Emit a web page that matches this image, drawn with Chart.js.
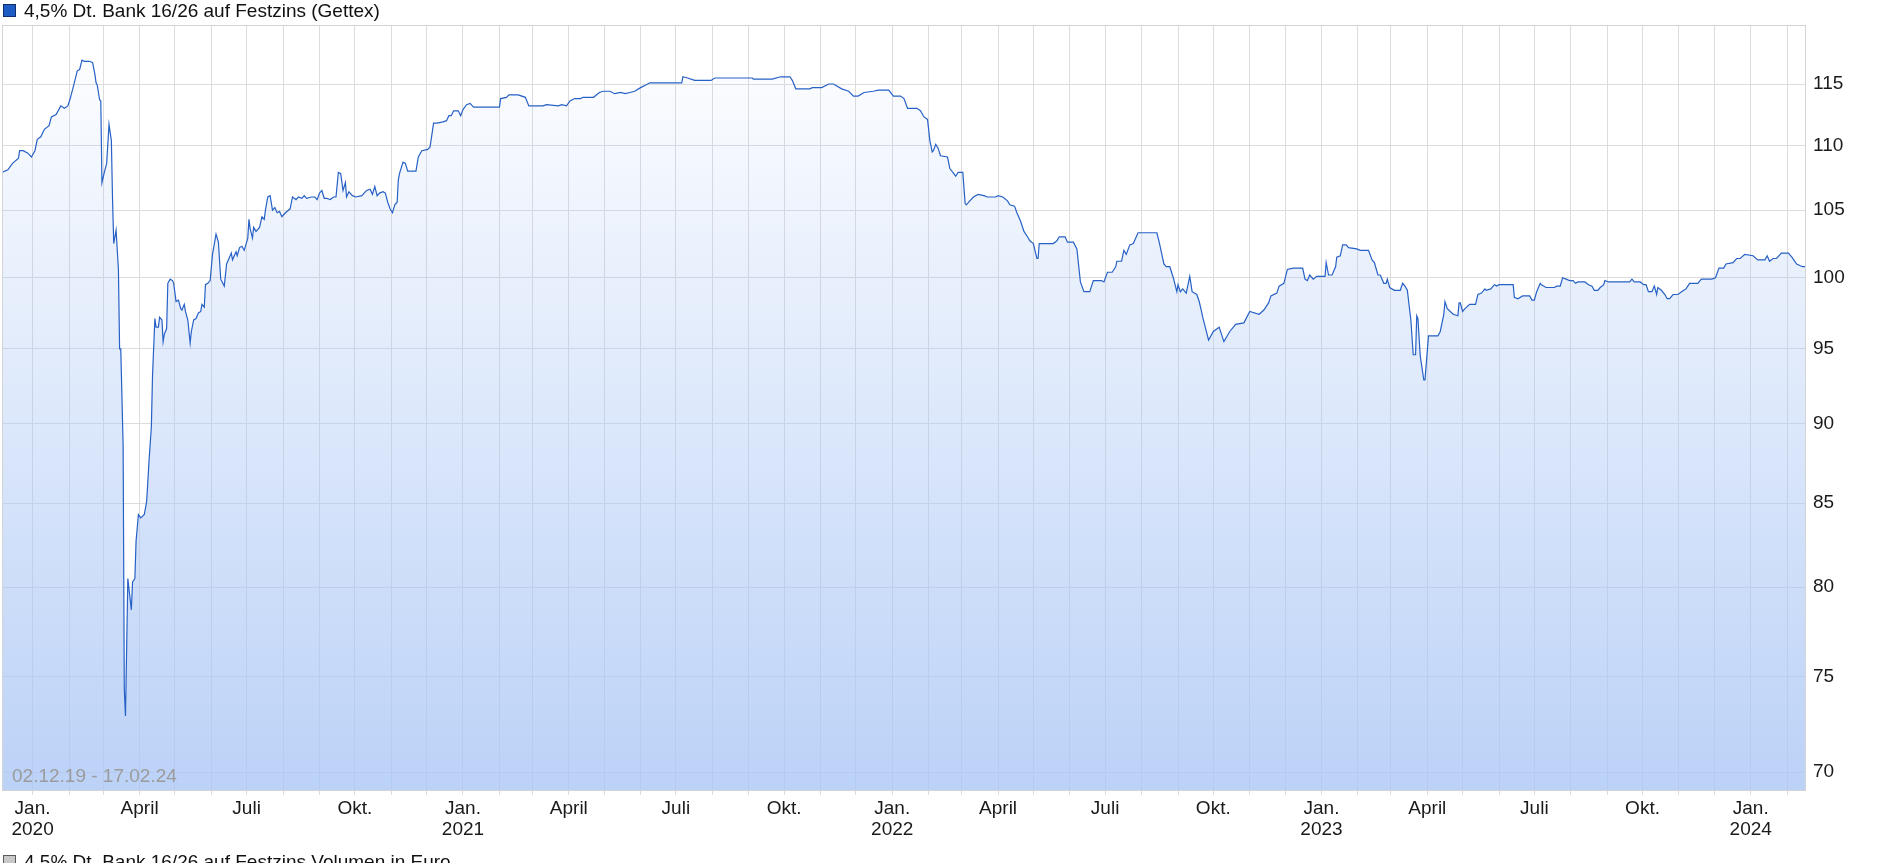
<!DOCTYPE html>
<html lang="de">
<head>
<meta charset="utf-8">
<title>4,5% Dt. Bank 16/26 auf Festzins (Gettex)</title>
<script src="https://cdn.jsdelivr.net/npm/chart.js@4.4.1/dist/chart.umd.min.js"></script>
<style>
  html, body { margin: 0; padding: 0; background: #fff; overflow: hidden; }
  body { width: 1880px; height: 863px; position: relative; font-family: 'Liberation Sans', Arial, sans-serif; }
  #wrap { position: absolute; left: 0; top: 0; width: 1880px; height: 863px; }
  .sq { position: absolute; left: 3px; width: 11px; height: 11px; border: 1px solid; }
  .lg { position: absolute; left: 24px; font-size: 19px; line-height: 20px; color: #111; white-space: nowrap; }
</style>
</head>
<body>
<div id="wrap"><canvas id="bondChart" width="1880" height="863"></canvas></div>
<div class="sq" style="top:4px;background:#1f5bc4;border-color:#0e2f6b"></div>
<div class="lg" style="top:1px">4,5% Dt. Bank 16/26 auf Festzins (Gettex)</div>
<div class="sq" style="top:855px;background:#c8c8c8;border-color:#5a5a5a"></div>
<div class="lg" style="top:852px">4,5% Dt. Bank 16/26 auf Festzins Volumen in Euro</div>

<script>
/* ── Data ── */

const dates = [
  '2019-12-06','2019-12-11','2019-12-15','2019-12-20','2019-12-21','2019-12-24','2019-12-28','2019-12-31',
  '2020-01-03','2020-01-05','2020-01-08','2020-01-11','2020-01-15','2020-01-17','2020-01-21','2020-01-25','2020-01-28','2020-01-31',
  '2020-02-02','2020-02-05','2020-02-08','2020-02-10','2020-02-12','2020-02-14','2020-02-18','2020-02-21','2020-02-23','2020-02-24','2020-02-25','2020-02-27','2020-02-28','2020-02-29',
  '2020-03-02','2020-03-04','2020-03-06','2020-03-08','2020-03-09','2020-03-10','2020-03-12','2020-03-14','2020-03-15','2020-03-16','2020-03-18','2020-03-19','2020-03-20','2020-03-22','2020-03-24','2020-03-25','2020-03-26','2020-03-28','2020-03-29','2020-03-31',
  '2020-04-02','2020-04-05','2020-04-07','2020-04-09','2020-04-11','2020-04-12','2020-04-14','2020-04-15','2020-04-17','2020-04-18','2020-04-20','2020-04-21','2020-04-22','2020-04-24','2020-04-25','2020-04-27','2020-04-29','2020-04-30',
  '2020-05-02','2020-05-04','2020-05-06','2020-05-07','2020-05-09','2020-05-10','2020-05-12','2020-05-14','2020-05-15','2020-05-17','2020-05-19','2020-05-21','2020-05-23','2020-05-24','2020-05-26','2020-05-27','2020-05-29','2020-05-31',
  '2020-06-02','2020-06-05','2020-06-07','2020-06-09','2020-06-12','2020-06-14','2020-06-16','2020-06-18','2020-06-19','2020-06-22','2020-06-23','2020-06-25','2020-06-27','2020-06-29',
  '2020-07-01','2020-07-02','2020-07-03','2020-07-04','2020-07-06','2020-07-07','2020-07-09','2020-07-12','2020-07-14','2020-07-16','2020-07-17','2020-07-19','2020-07-21','2020-07-23','2020-07-25','2020-07-27','2020-07-29','2020-07-31',
  '2020-08-03','2020-08-07','2020-08-09','2020-08-12','2020-08-14','2020-08-17','2020-08-19','2020-08-21','2020-08-25','2020-08-28','2020-08-30',
  '2020-09-01','2020-09-03','2020-09-05','2020-09-07','2020-09-10','2020-09-13','2020-09-15','2020-09-17','2020-09-19','2020-09-21','2020-09-23','2020-09-24','2020-09-26','2020-09-29',
  '2020-10-02','2020-10-07','2020-10-11','2020-10-14','2020-10-16','2020-10-18','2020-10-20','2020-10-22','2020-10-25','2020-10-27','2020-10-29','2020-10-31',
  '2020-11-02','2020-11-04','2020-11-06','2020-11-07','2020-11-08','2020-11-11','2020-11-13','2020-11-15','2020-11-22','2020-11-24','2020-11-27',
  '2020-12-02','2020-12-04','2020-12-07','2020-12-10','2020-12-15','2020-12-18','2020-12-20','2020-12-22','2020-12-24','2020-12-28','2020-12-30',
  '2021-01-01','2021-01-04','2021-01-07','2021-01-10',
  '2021-02-01','2021-02-02','2021-02-07','2021-02-09','2021-02-17','2021-02-23','2021-02-26',
  '2021-03-10','2021-03-13','2021-03-23','2021-03-26','2021-03-30',
  '2021-04-02','2021-04-06','2021-04-11','2021-04-13','2021-04-22','2021-04-27','2021-04-30',
  '2021-05-06','2021-05-10','2021-05-15','2021-05-19','2021-05-23','2021-05-27',
  '2021-06-01','2021-06-05','2021-06-09',
  '2021-07-06','2021-07-07','2021-07-11','2021-07-17','2021-07-31',
  '2021-08-03',
  '2021-09-04','2021-09-05','2021-09-21','2021-09-28',
  '2021-10-06','2021-10-08','2021-10-11','2021-10-23','2021-10-25',
  '2021-11-02','2021-11-08','2021-11-12','2021-11-19','2021-11-25','2021-11-29',
  '2021-12-03','2021-12-08','2021-12-16','2021-12-20','2021-12-29',
  '2022-01-02','2022-01-08','2022-01-11','2022-01-14','2022-01-22','2022-01-25','2022-01-28','2022-01-31',
  '2022-02-02','2022-02-04','2022-02-05','2022-02-07','2022-02-09','2022-02-11','2022-02-17','2022-02-19','2022-02-24','2022-02-26',
  '2022-03-02','2022-03-04','2022-03-05','2022-03-08','2022-03-11','2022-03-15','2022-03-20','2022-03-23','2022-03-30',
  '2022-04-01','2022-04-05','2022-04-09','2022-04-11','2022-04-15','2022-04-17','2022-04-20','2022-04-23','2022-04-26','2022-04-28',
  '2022-05-01','2022-05-04','2022-05-05','2022-05-06','2022-05-18','2022-05-21','2022-05-23','2022-05-28','2022-05-30',
  '2022-06-04','2022-06-07','2022-06-10','2022-06-13','2022-06-18','2022-06-21','2022-06-28','2022-06-30',
  '2022-07-03','2022-07-07','2022-07-10','2022-07-11','2022-07-15','2022-07-17','2022-07-19','2022-07-22','2022-07-25','2022-07-29',
  '2022-08-14','2022-08-16','2022-08-20','2022-08-22','2022-08-25','2022-08-28','2022-08-31',
  '2022-09-01','2022-09-03','2022-09-05','2022-09-08','2022-09-11','2022-09-13','2022-09-17','2022-09-19','2022-09-21','2022-09-22','2022-09-27',
  '2022-10-01','2022-10-06','2022-10-10','2022-10-15','2022-10-20','2022-10-27',
  '2022-11-01','2022-11-09','2022-11-13','2022-11-17','2022-11-19','2022-11-24','2022-11-26','2022-11-30',
  '2022-12-03','2022-12-08','2022-12-16','2022-12-18','2022-12-20','2022-12-22','2022-12-25','2022-12-28',
  '2023-01-04','2023-01-05','2023-01-07','2023-01-10','2023-01-13','2023-01-14','2023-01-17','2023-01-19','2023-01-22','2023-01-24','2023-01-31',
  '2023-02-03','2023-02-10','2023-02-13','2023-02-15','2023-02-16','2023-02-18','2023-02-20','2023-02-23','2023-02-25','2023-02-26','2023-02-28',
  '2023-03-04','2023-03-09','2023-03-11','2023-03-13','2023-03-15','2023-03-18','2023-03-20','2023-03-22','2023-03-23','2023-03-24','2023-03-26','2023-03-29','2023-03-30',
  '2023-04-02','2023-04-07','2023-04-10','2023-04-12','2023-04-15','2023-04-16','2023-04-18','2023-04-23','2023-04-27','2023-04-28','2023-04-29',
  '2023-05-01','2023-05-03','2023-05-07','2023-05-12','2023-05-14','2023-05-17','2023-05-20','2023-05-21','2023-05-25','2023-05-28','2023-05-30',
  '2023-06-01','2023-06-13','2023-06-14','2023-06-17','2023-06-21','2023-06-27','2023-06-29',
  '2023-07-01','2023-07-03','2023-07-06','2023-07-07','2023-07-11','2023-07-18','2023-07-20','2023-07-23','2023-07-25','2023-07-28','2023-07-31',
  '2023-08-03','2023-08-05','2023-08-07','2023-08-13','2023-08-16','2023-08-19','2023-08-21','2023-08-24','2023-08-26','2023-08-29','2023-08-30',
  '2023-09-02','2023-09-20','2023-09-22','2023-09-24','2023-09-29',
  '2023-10-02','2023-10-04','2023-10-06','2023-10-09','2023-10-11','2023-10-13','2023-10-14','2023-10-17','2023-10-20','2023-10-22','2023-10-24','2023-10-27','2023-10-31',
  '2023-11-05','2023-11-07','2023-11-10','2023-11-17','2023-11-20','2023-11-29',
  '2023-12-02','2023-12-05','2023-12-09','2023-12-11','2023-12-17','2023-12-20','2023-12-23','2023-12-27',
  '2024-01-03','2024-01-07','2024-01-13','2024-01-15','2024-01-17','2024-01-20','2024-01-23','2024-01-27',
  '2024-02-02','2024-02-05','2024-02-09','2024-02-14','2024-02-17'
];

const prices = [
  107.9,108.1,108.6,109.0,109.6,109.6,109.4,109.1,
  109.6,110.5,110.7,111.3,111.6,112.3,112.5,113.2,113.0,113.2,
  113.8,114.9,116.1,116.2,117.0,116.9,116.9,116.8,115.8,115.1,114.9,113.7,113.6,107.1,
  107.9,108.6,111.7,110.4,105.8,102.5,103.5,100.6,95.0,95.0,88.6,74.3,72.9,80.5,79.3,78.7,80.3,80.5,82.7,84.3,
  84.1,84.3,85.1,87.6,89.8,93.2,97.1,96.5,96.5,97.2,97.0,95.5,96.0,96.4,99.6,99.9,99.8,99.6,
  98.3,98.4,97.8,97.7,98.1,97.6,97.0,95.4,96.2,97.0,97.1,97.5,97.6,98.1,97.9,99.5,99.6,99.8,
  101.7,103.2,102.6,99.9,99.4,101.0,101.4,101.8,101.3,101.9,101.6,102.2,102.3,102.0,
  102.6,102.9,104.3,103.6,102.9,103.7,103.4,103.7,104.5,104.3,105.0,106.0,106.1,105.0,105.2,104.8,104.9,104.5,
  104.8,105.1,106.0,105.8,106.0,105.9,106.1,105.9,106.0,106.0,105.8,
  106.3,106.5,105.9,105.9,105.8,106.0,106.0,107.9,107.8,106.5,107.1,106.0,106.4,106.1,
  106.0,106.1,106.5,106.6,106.2,106.8,106.1,106.3,106.4,106.3,105.6,105.1,
  104.8,105.4,105.6,107.3,107.8,108.7,108.6,108.0,108.0,109.1,109.6,
  109.7,109.9,111.8,111.8,111.9,112.0,112.4,112.4,112.8,112.8,112.4,
  112.9,113.3,113.4,113.1,
  113.1,113.8,113.9,114.1,114.1,113.9,113.2,
  113.2,113.3,113.2,113.3,113.2,
  113.6,113.8,113.8,113.9,113.9,114.3,114.4,
  114.4,114.2,114.3,114.2,114.3,114.4,
  114.7,114.9,115.1,
  115.1,115.6,115.5,115.3,115.3,
  115.5,
  115.5,115.4,115.4,115.6,
  115.6,115.3,114.6,114.6,114.7,
  114.7,115.0,115.0,114.6,114.4,114.0,
  114.0,114.3,114.4,114.5,114.5,
  114.0,114.0,113.8,113.0,113.0,112.8,112.3,112.1,
  110.4,109.5,109.6,110.1,109.8,109.2,109.1,108.2,107.6,107.9,
  107.9,105.5,105.4,105.7,106.0,106.2,106.1,106.0,106.0,
  106.1,106.0,105.7,105.4,105.3,104.8,104.2,103.4,103.0,102.7,
  102.5,101.4,101.4,102.5,102.5,102.7,103.0,103.0,102.6,
  102.6,102.1,99.7,99.0,99.0,99.8,99.8,99.7,
  100.4,100.4,100.8,101.2,101.2,102.0,101.7,102.4,102.5,103.3,
  103.3,102.6,101.0,100.8,100.8,100.0,99.0,
  99.5,99.0,99.2,98.9,100.1,99.0,98.8,98.3,97.6,97.2,95.6,
  96.2,96.5,95.5,96.2,96.7,96.8,
  97.6,97.4,97.7,98.2,98.7,98.9,99.4,99.6,
  100.6,100.7,100.7,99.9,99.8,100.2,99.9,100.1,
  100.1,101.1,100.2,100.2,100.8,101.5,101.6,102.4,102.4,102.2,102.1,
  102.0,102.0,101.3,101.1,100.8,100.2,100.2,99.6,99.6,99.9,99.3,
  99.1,99.1,99.6,99.4,99.1,97.0,94.6,94.6,97.3,97.1,94.5,92.9,92.9,
  95.9,95.9,95.9,96.2,97.4,98.3,97.8,97.4,97.3,98.2,98.2,
  97.6,97.8,98.1,98.1,98.8,98.9,99.2,99.1,99.2,99.5,99.4,
  99.5,99.5,98.6,98.5,98.7,98.7,98.4,
  98.4,99.0,99.6,99.5,99.3,99.3,99.4,99.4,100.0,99.9,99.8,
  99.8,99.6,99.7,99.7,99.5,99.4,99.1,99.1,99.3,99.5,99.8,
  99.7,99.7,99.9,99.7,99.7,
  99.5,99.5,99.0,99.0,99.4,98.8,99.3,99.1,98.8,98.5,98.5,98.8,98.8,
  99.1,99.2,99.6,99.6,99.9,99.9,
  100.0,100.7,100.7,101.0,101.1,101.4,101.4,101.7,
  101.6,101.3,101.3,101.6,101.2,101.4,101.4,101.8,
  101.8,101.5,101.0,100.8,100.8
];

const yTicks      = [70, 75, 80, 85, 90, 95, 100, 105, 110, 115];
const monthLabels = ['Jan.', '', '', 'April', '', '', 'Juli', '', '', 'Okt.', '', ''];
const rangeText   = '02.12.19 - 17.02.24';

/* ── Chart ── */

const LINE  = '#2761c6';
const GRID  = '#dcdcdc';
const INK   = '#1a1a1a';
const FONT  = "'Liberation Sans', Arial, sans-serif";

const dayNum = s => Date.UTC(+s.slice(0, 4), +s.slice(5, 7) - 1, +s.slice(8, 10)) / 864e5;

const points = dates.map((d, i) => ({ x: dayNum(d), y: prices[i] }));

const frame = {
  id: 'frame',
  afterDatasetsDraw(chart) {
    const { ctx, chartArea: a } = chart;
    ctx.save();
    ctx.strokeStyle = '#d4d4d4';
    ctx.lineWidth = 1;
    ctx.strokeRect(Math.round(a.left) + 0.5, Math.round(a.top) + 0.5,
                   Math.round(a.right - a.left) - 1, Math.round(a.bottom - a.top) - 1);
    ctx.font = '19px ' + FONT;
    ctx.fillStyle = '#9b9b9b';
    ctx.textBaseline = 'alphabetic';
    ctx.fillText(rangeText, a.left + 10, a.bottom - 9);
    ctx.restore();
  }
};

new Chart(document.getElementById('bondChart'), {
  type: 'line',
  data: {
    datasets: [{
      label: '4,5% Dt. Bank 16/26 auf Festzins (Gettex)',
      data: points,
      borderColor: LINE,
      borderWidth: 1.2,
      pointRadius: 0,
      tension: 0,
      fill: 'start',
      backgroundColor: c => {
        const area = c.chart.chartArea;
        if (!area) return 'rgba(170,198,245,0.4)';
        const g = c.chart.ctx.createLinearGradient(0, area.top, 0, area.bottom);
        g.addColorStop(0, 'rgba(170,198,245,0)');
        g.addColorStop(1, 'rgba(170,198,245,0.8)');
        return g;
      }
    }]
  },
  options: {
    responsive: false,
    animation: false,
    events: [],
    layout: { padding: { left: 2, top: 25, right: 0, bottom: 0 } },
    plugins: { legend: { display: false }, tooltip: { enabled: false } },
    scales: {
      x: {
        type: 'linear',
        min: dayNum(dates[0]),
        max: dayNum(dates[dates.length - 1]),
        border: { display: false },
        grid: { color: GRID, tickColor: GRID, tickLength: 4 },
        afterBuildTicks: axis => {
          const t = [];
          for (let y = 2019; y <= 2024; y++) {
            for (let m = 0; m < 12; m++) {
              const v = Date.UTC(y, m, 1) / 864e5;
              if (v >= axis.min && v <= axis.max) t.push({ value: v });
            }
          }
          axis.ticks = t;
        },
        afterFit: axis => { axis.height = 72; },
        ticks: {
          autoSkip: false,
          maxRotation: 0,
          minRotation: 0,
          padding: 3,
          color: INK,
          font: { family: FONT, size: 19, lineHeight: 1.105 },
          callback: v => {
            const d = new Date(v * 864e5);
            const m = d.getUTCMonth();
            return m === 0 ? [monthLabels[0], String(d.getUTCFullYear())] : monthLabels[m];
          }
        }
      },
      y: {
        type: 'logarithmic',
        position: 'right',
        min: 69.06,
        max: 120,
        border: { display: false },
        grid: { color: GRID, drawTicks: false },
        afterBuildTicks: axis => { axis.ticks = yTicks.map(v => ({ value: v })); },
        afterFit: axis => { axis.width = 74; },
        ticks: {
          padding: 7,
          color: INK,
          font: { family: FONT, size: 19 },
          callback: v => String(v)
        }
      }
    }
  },
  plugins: [frame]
});
</script>
</body>
</html>
